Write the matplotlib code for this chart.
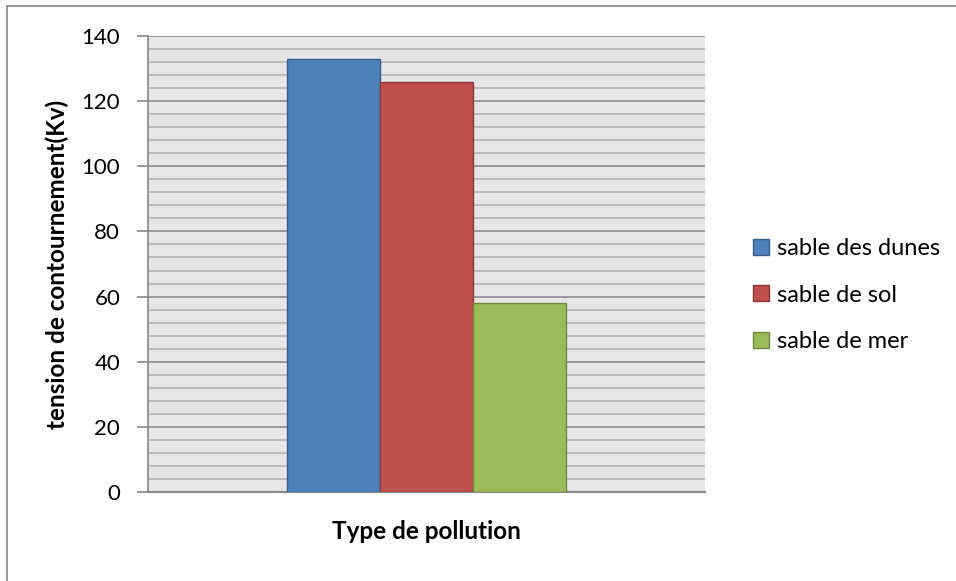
import matplotlib
matplotlib.use("Agg")
import matplotlib.pyplot as plt
from matplotlib.patches import Rectangle
from matplotlib.ticker import MultipleLocator

plt.rcParams['font.family'] = ['Lato', 'DejaVu Sans']

categories = [""]
series_names = ["sable des dunes", "sable de sol", "sable de mer"]
series_values = [[133], [126], [58]]
colors = ["#4F81BD", "#C0504D", "#9BBB59"]
edge_colors = ["#385D8A", "#8C3836", "#71893F"]
y_ticks = [0, 20, 40, 60, 80, 100, 120, 140]

W, H = 956, 581
fig = plt.figure(figsize=(W / 100, H / 100), dpi=100)

# outer chart frame
fig.patches.append(Rectangle((7 / W, -0.05), 1.2, (H - 6) / H + 0.05,
                             transform=fig.transFigure, fill=False,
                             edgecolor="#888888", linewidth=1.2))

ax = fig.add_axes([148 / W, 1 - 492 / H, (705 - 148) / W, (492 - 36) / H])
ax.set_facecolor("#E6E6E6")

bar_w = 93 / 557
offsets = [-bar_w, 0, bar_w]
for name, vals, c, ec, off in zip(series_names, series_values, colors, edge_colors, offsets):
    ax.bar([i + off for i in range(len(categories))], vals, width=bar_w,
           color=c, edgecolor=ec, linewidth=1.0, label=name, zorder=3)

ax.set_xlim(-0.5, 0.5)
ax.set_ylim(0, 140)
ax.set_yticks(y_ticks)
ax.yaxis.set_minor_locator(MultipleLocator(4))
ax.grid(which="major", axis="y", color="#8C8C8C", linewidth=1.2, zorder=1)
ax.grid(which="minor", axis="y", color="#B4B4B4", linewidth=1.2, zorder=1)
ax.set_xticks([])
ax.tick_params(axis="y", which="major", length=8, color="#888888", width=1.2,
               labelsize=16, pad=12)
ax.tick_params(axis="y", which="minor", length=0)
for side in ["top", "right"]:
    ax.spines[side].set_visible(False)
ax.spines["left"].set_color("#888888")
ax.spines["left"].set_linewidth(1.2)
ax.spines["bottom"].set_color("#888888")
ax.spines["bottom"].set_linewidth(1.5)

ax.set_ylabel("tension de contournement(Kv)", fontsize=17.5, fontweight="bold", labelpad=9)
ax.set_xlabel("Type de pollution", fontsize=17.5, fontweight="bold", labelpad=20)

leg = ax.legend(loc="center left", bbox_to_anchor=(744 / W, 1 - 295 / H),
                bbox_transform=fig.transFigure, frameon=False, fontsize=17,
                handlelength=0.65, handleheight=0.65, handletextpad=0.35,
                labelspacing=1.08, borderaxespad=0)

fig.savefig("out.png", dpi=100)
